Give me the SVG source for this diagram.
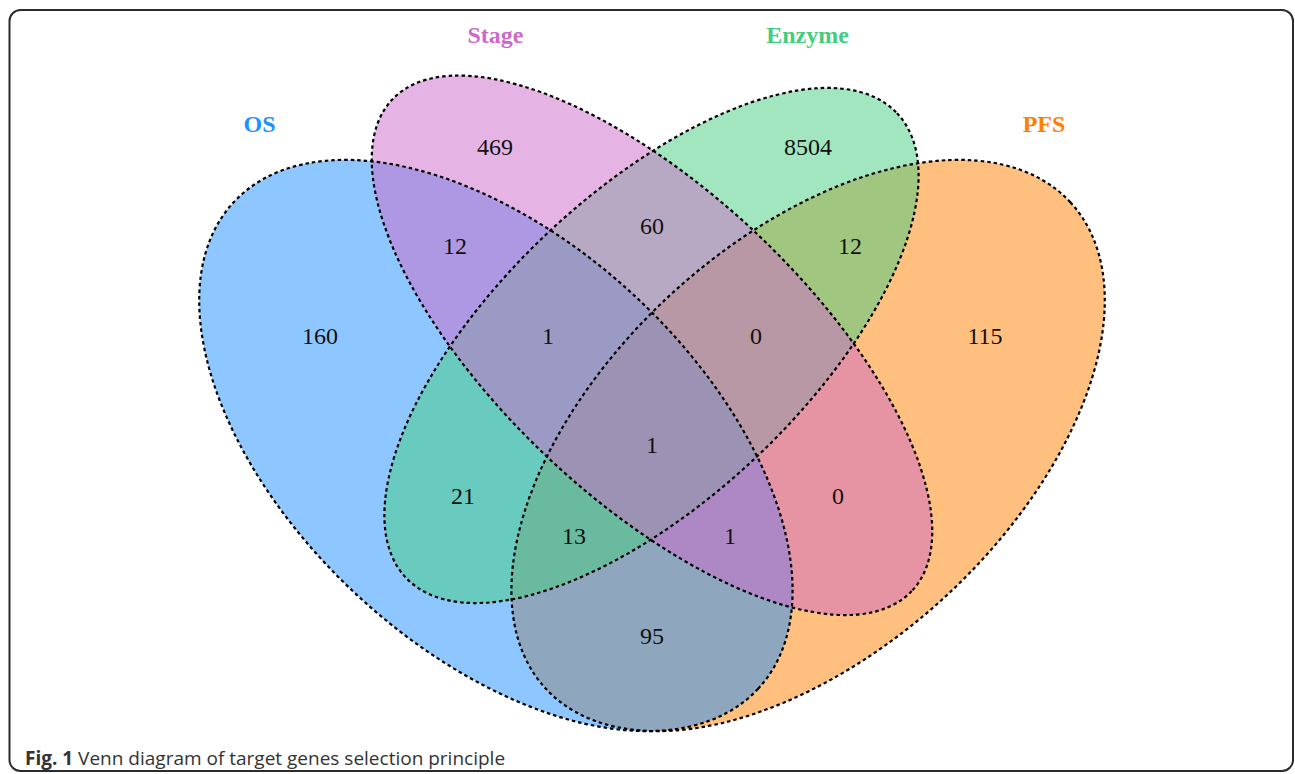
<svg xmlns="http://www.w3.org/2000/svg" width="1295" height="774" viewBox="0 0 1295 774">
  <style>
    .fill { fill-opacity: 0.5; stroke: none; }
    .outline { fill: none; stroke: #000; stroke-width: 2.2; stroke-dasharray: 3.5 3; }
    .num { font-family: "Liberation Serif", "Times New Roman", serif; font-size: 24px; fill: #111; text-anchor: middle; }
    .cat { font-family: "Liberation Serif", "Times New Roman", serif; font-size: 24px; font-weight: bold; text-anchor: middle; }
    .cap { font-family: "Open Sans", "Noto Sans", sans-serif; font-size: 19px; fill: #333; }
  </style>
  <rect x="0" y="0" width="1295" height="774" fill="#fff"/>
  <rect id="frame" x="9.5" y="10" width="1283.5" height="761" rx="11" ry="11" fill="none" stroke="#2b2b2b" stroke-width="2"/>

  <g id="PFS">
    <ellipse class="fill" fill="#FF7F00" cx="808.1" cy="445.5" rx="357.7" ry="204.1" transform="rotate(-42.86 808.1 445.5)"/>
    <text class="cat" fill="#FF7F00" x="1044" y="132">PFS</text>
  </g>
  <g id="OS">
    <ellipse class="fill" fill="#1E90FF" cx="495.9" cy="445.5" rx="357.7" ry="204.1" transform="rotate(42.86 495.9 445.5)"/>
    <text class="cat" fill="#1E90FF" x="259.5" y="132">OS</text>
  </g>
  <g id="Enzyme">
    <ellipse class="fill" fill="#43CD80" cx="651.5" cy="345.5" rx="338" ry="153.1" transform="rotate(-43.42 651.5 345.5)"/>
    <text class="cat" fill="#43CD80" x="807.5" y="43">Enzyme</text>
  </g>
  <g id="Stage">
    <ellipse class="fill" fill="#CD69C9" cx="652" cy="345.3" rx="357.6" ry="153.1" transform="rotate(43.42 652 345.3)"/>
    <text class="cat" fill="#CD69C9" x="495.5" y="43">Stage</text>
  </g>

  <g id="outlines">
    <ellipse class="outline" cx="808.1" cy="445.5" rx="357.7" ry="204.1" transform="rotate(-42.86 808.1 445.5)"/>
    <ellipse class="outline" cx="495.9" cy="445.5" rx="357.7" ry="204.1" transform="rotate(42.86 495.9 445.5)"/>
    <ellipse class="outline" cx="651.5" cy="345.5" rx="338" ry="153.1" transform="rotate(-43.42 651.5 345.5)"/>
    <ellipse class="outline" cx="652" cy="345.3" rx="357.6" ry="153.1" transform="rotate(43.42 652 345.3)"/>
  </g>

  <g id="counts">
    <text class="num" x="495" y="155">469</text>
    <text class="num" x="808" y="155">8504</text>
    <text class="num" x="320" y="344">160</text>
    <text class="num" x="985" y="344">115</text>
    <text class="num" x="455" y="254">12</text>
    <text class="num" x="652" y="234">60</text>
    <text class="num" x="850" y="254">12</text>
    <text class="num" x="548" y="344">1</text>
    <text class="num" x="756" y="344">0</text>
    <text class="num" x="652" y="453">1</text>
    <text class="num" x="463" y="504">21</text>
    <text class="num" x="838" y="504">0</text>
    <text class="num" x="574" y="544">13</text>
    <text class="num" x="730" y="544">1</text>
    <text class="num" x="652" y="644">95</text>
  </g>

  <text class="cap" x="25" y="765"><tspan font-weight="bold">Fig. 1</tspan> Venn diagram of target genes selection principle</text>
</svg>
